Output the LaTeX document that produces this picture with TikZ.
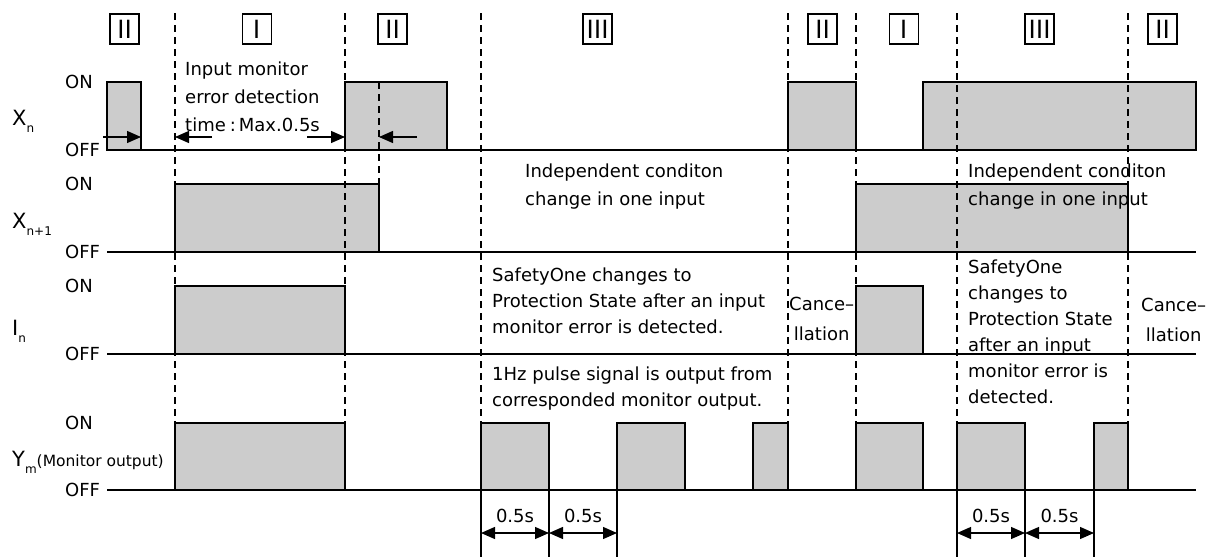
\documentclass[tikz,border=0pt]{standalone}
\usepackage{fontspec}
\setmainfont{DejaVu Sans}
\newfontfamily\cjkfont{Noto Sans CJK JP}
\usetikzlibrary{arrows.meta,positioning}
\tikzset{
	sigline/.style={line width=1.6pt},
	pulse/.style={draw=black, fill=black!20, line width=1.6pt},
	guide/.style={dash pattern=on 7pt off 5pt, line width=1.3pt},
	measline/.style={line width=1.3pt},
	numbox/.style={rectangle, draw=black, line width=1.2pt, minimum width=29pt,
		minimum height=30pt, inner sep=0pt, font=\cjkfont\fontsize{25}{25}\selectfont},
	lvl/.style={anchor=west, inner sep=0pt, font=\fontsize{18}{18}\selectfont},
	signame/.style={anchor=base west, inner sep=0pt, font=\fontsize{21}{21}\selectfont},
	note/.style={anchor=north west, inner sep=0pt, align=left, font=\fontsize{18}{26}\selectfont},
	widenote/.style={note, font=\fontsize{18}{28}\selectfont},
	cancnote/.style={anchor=north west, inner sep=0pt, align=center, font=\fontsize{18}{30}\selectfont},
	dimlbl/.style={inner sep=0pt, font=\fontsize{18}{18}\selectfont},
	tickarr/.style={-{Triangle[length=14pt,width=12pt]}, line width=1.3pt},
	dimarr/.style={{Triangle[length=14pt,width=12pt]}-{Triangle[length=14pt,width=12pt]}, line width=1.3pt}
}
\newcommand{\sigsub}[1]{\raisebox{-7pt}{\fontsize{12}{12}\selectfont #1}}

\begin{document}
\begin{tikzpicture}[x=1pt, y=-1pt]
	\useasboundingbox (0,0) rectangle (1213,557);
	% phase boxes
	\node[numbox] (ph1) at (124.5,29) {Ⅱ};
	\node[numbox] (ph2) at (257,29) {Ⅰ};
	\node[numbox] (ph3) at (392.5,29) {Ⅱ};
	\node[numbox] (ph4) at (597.5,29) {Ⅲ};
	\node[numbox] (ph5) at (822.5,29) {Ⅱ};
	\node[numbox] (ph6) at (904,29) {Ⅰ};
	\node[numbox] (ph7) at (1039.5,29) {Ⅲ};
	\node[numbox] (ph8) at (1162.5,29) {Ⅱ};
	% signal names
	\node[signame] (xn) at (12,125) {X\sigsub{n}};
	\node[signame] (xn1) at (12,228) {X\sigsub{n+1}};
	\node[signame] (in) at (12,335) {I\sigsub{n}};
	\node[signame] (ym) at (12,466) {Y\sigsub{m}{\fontsize{15.5}{15.5}\selectfont(Monitor output)}};
	% ON / OFF levels
	\foreach \lo/\hi [count=\i] in {82/150, 184/252, 286/354, 423/490} {
		\node[lvl] (on\i) at (65,\lo) {ON};
		\node[lvl] (off\i) at (65,\hi) {OFF};
	}
	% pulses
	\draw[pulse] (107,82) rectangle (141,150);
	\draw[pulse] (345,82) rectangle (447,150);
	\draw[pulse] (788,82) rectangle (856,150);
	\draw[pulse] (923,82) rectangle (1196,150);
	\draw[pulse] (175,184) rectangle (379,252);
	\draw[pulse] (856,184) rectangle (1128,252);
	\draw[pulse] (175,286) rectangle (345,354);
	\draw[pulse] (856,286) rectangle (923,354);
	\foreach \a/\b in {175/345, 481/549, 617/685, 753/788, 856/923, 957/1025, 1094/1128}
		\draw[pulse] (\a,423) rectangle (\b,490);
	\foreach \hi in {150,252,354,490}
		\draw[sigline] (107,\hi) -- (1196,\hi);
	% phase borders
	\foreach \gx in {175,345,481,788,856,957,1128}
		\draw[guide] (\gx,13) -- (\gx,423);
	\draw[guide] (379,82) -- (379,184);
	% detection time marks
	\coordinate (t1) at (103,137);
	\coordinate (t2) at (141,137);
	\coordinate (t3) at (212,137);
	\coordinate (t4) at (175,137);
	\coordinate (t5) at (307,137);
	\coordinate (t6) at (345,137);
	\coordinate (t7) at (417,137);
	\coordinate (t8) at (379,137);
	\draw[tickarr] (t1) -- (t2);
	\draw[tickarr] (t3) -- (t4);
	\draw[tickarr] (t5) -- (t6);
	\draw[tickarr] (t7) -- (t8);
	% notes
	\node[widenote] (det) at (185,61.5) {Input monitor\\error detection\\time\hspace{4pt}:\hspace{3pt}Max.0.5s};
	\node[widenote] (ind1) at (525,163.5) {Independent conditon\\change in one input};
	\node[note] (prot1) at (492,268) {SafetyOne changes to\\Protection State after an input\\monitor error is detected.};
	\node[note] (hz) at (492,367) {1Hz pulse signal is output from\\corresponded monitor output.};
	\node[widenote] (ind2) at (968,163.5) {Independent conditon\\change in one input};
	\node[note] (prot2) at (968,259.5) {SafetyOne\\changes to\\Protection State\\after an input\\monitor error is\\detected.};
	\node[cancnote] (canc1) at (789,296.5) {Cance–\\llation};
	\node[cancnote] (canc2) at (1141,298) {Cance–\\llation};
	% pulse width marks
	\foreach \gx in {481,549,617,957,1025,1094}
		\draw[measline] (\gx,490) -- (\gx,557);
	\coordinate (d1) at (481,533);
	\coordinate (d2) at (549,533);
	\coordinate (d3) at (617,533);
	\coordinate (d4) at (957,533);
	\coordinate (d5) at (1025,533);
	\coordinate (d6) at (1094,533);
	\draw[dimarr] (d1) -- node[dimlbl, above=10pt] (w1) {0.5s} (d2);
	\draw[dimarr] (d2) -- node[dimlbl, above=10pt] (w2) {0.5s} (d3);
	\draw[dimarr] (d4) -- node[dimlbl, above=10pt] (w3) {0.5s} (d5);
	\draw[dimarr] (d5) -- node[dimlbl, above=10pt] (w4) {0.5s} (d6);
\end{tikzpicture}
\end{document}
